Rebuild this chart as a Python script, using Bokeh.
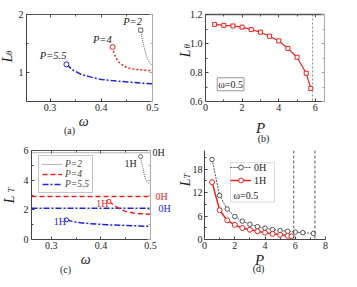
import math
from bokeh.plotting import figure
from bokeh.models import (Range1d, LinearAxis, FixedTicker, Label, Legend, LegendItem,
                          Span, BoxAnnotation, PrintfTickFormatter, Title,
                          CustomJSTickFormatter)
from bokeh.layouts import row, column
from bokeh.embed import file_html
from bokeh.resources import INLINE

FONT = "Liberation Serif"
GRAY = "#666666"
RED = "#ee2020"
BLUE = "#2222dd"

# ---------------- data ----------------
# (a) L_theta vs omega
a_p2_w = [0.477, 0.479, 0.482, 0.485, 0.488, 0.491, 0.494, 0.497, 0.500]
a_p2_L = [1.73, 1.62, 1.49, 1.38, 1.29, 1.22, 1.17, 1.14, 1.12]
a_p4_w = [0.422, 0.425, 0.428, 0.433, 0.438, 0.445, 0.452, 0.462, 0.472, 0.485, 0.500]
a_p4_L = [1.44, 1.34, 1.26, 1.19, 1.15, 1.11, 1.08, 1.06, 1.05, 1.04, 1.03]
a_p55_w = [0.332, 0.345, 0.360, 0.380, 0.400, 0.420, 0.440, 0.460, 0.480, 0.500]
a_p55_L = [1.14, 1.04, 0.97, 0.92, 0.88, 0.86, 0.845, 0.83, 0.815, 0.805]
a_labels = ["P=2", "P=4", "P=5.5"]
a_label_w = [0.461, 0.402, 0.306]
a_label_L = [1.88, 1.57, 1.29]

# (b) L_theta vs P at omega = 0.5
b_P = [0.5, 1.0, 1.5, 2.0, 2.5, 3.0, 3.5, 4.0, 4.5, 5.0, 5.5, 5.75]
b_L = [1.132, 1.125, 1.121, 1.113, 1.096, 1.078, 1.050, 1.018, 0.966, 0.905, 0.795, 0.69]
b_Pmax = 5.85

# (c) L_T vs omega
c_0h = [5.85, 2.9, 2.1]            # P=2, P=4, P=5.5 (0H)
c_p2_w = [0.480, 0.482, 0.485, 0.487, 0.490, 0.493, 0.496, 0.500]
c_p2_L = [5.6, 5.2, 4.8, 4.45, 4.1, 3.9, 3.8, 3.72]
c_p4_w = [0.416, 0.422, 0.428, 0.435, 0.443, 0.452, 0.465, 0.478, 0.490, 0.500]
c_p4_L = [2.57, 2.42, 2.27, 2.12, 1.98, 1.88, 1.79, 1.74, 1.72, 1.71]
c_p55_w = [0.331, 0.340, 0.350, 0.367, 0.390, 0.413, 0.440, 0.465, 0.485, 0.500]
c_p55_L = [1.33, 1.24, 1.17, 1.10, 1.04, 0.99, 0.96, 0.93, 0.90, 0.88]
c_1h_label_w = [0.460, 0.403, 0.317]
c_1h_label_L = [5.11, 2.42, 1.19]

# (d) L_T vs P at omega = 0.5
d_0h_P = [0.5, 1.0, 1.5, 2.0, 2.5, 3.0, 3.5, 4.0, 4.5, 5.0, 5.5, 6.0, 6.5, 7.2]
d_0h_L = [20.5, 11.3, 7.8, 5.9, 4.7, 3.9, 3.3, 2.9, 2.55, 2.3, 2.1, 1.9, 1.75, 1.55]
d_1h_P = [0.5, 1.0, 1.5, 2.0, 2.5, 3.0, 3.5, 4.0, 4.5, 5.0, 5.5, 5.75]
d_1h_L = [14.7, 7.5, 4.9, 3.75, 2.95, 2.5, 2.1, 1.75, 1.45, 1.2, 0.95, 0.8]
d_vlines = [5.9, 7.3]


def make_fig(w, h, left, right, top, bottom, xr, yr):
    p = figure(width=w, height=h, x_range=Range1d(*xr), y_range=Range1d(*yr),
               toolbar_location=None, output_backend="svg",
               min_border_left=left, min_border_right=right,
               min_border_top=top, min_border_bottom=bottom)
    p.grid.visible = False
    p.outline_line_color = None
    p.background_fill_color = "white"
    p.border_fill_color = "white"
    return p


def style_axis(ax, ticks, minor, color="#444444", width=1, labels=True, fmt=None,
               standoff=2):
    ax.ticker = FixedTicker(ticks=ticks, minor_ticks=minor)
    ax.axis_line_color = color
    ax.axis_line_width = width
    ax.major_tick_line_color = color
    ax.minor_tick_line_color = color
    ax.major_tick_in = 3
    ax.major_tick_out = 0
    ax.minor_tick_in = 2
    ax.minor_tick_out = 0
    ax.axis_label = None
    if fmt is not None:
        ax.formatter = fmt
    if labels:
        ax.major_label_text_font = FONT
        ax.major_label_text_font_size = "10px"
        ax.major_label_text_color = "#222222"
        ax.major_label_standoff = standoff
    else:
        ax.major_label_text_font_size = "0px"
        ax.major_label_text_color = None
        ax.major_label_standoff = 0


def add_spine(p, side, ticks, minor, color="#aaaaaa", width=1):
    ax = LinearAxis()
    style_axis(ax, ticks, minor, color=color, width=width, labels=False)
    p.add_layout(ax, side)


def ttl(p, side, text, size, style, align, offset, valign, standoff, color="#222222"):
    p.add_layout(Title(text=text, text_font=FONT, text_font_size=f"{size}px",
                       text_font_style=style, text_color=color, align=align,
                       offset=offset, vertical_align=valign, standoff=int(standoff)), side)


def lab(p, text, x, y, size, style="normal", color="#222222", align="center", **kw):
    p.add_layout(Label(x=x, y=y, text=text, text_font=FONT, text_font_size=f"{size}px",
                       text_font_style=style, text_color=color,
                       text_align=align, text_baseline="middle", **kw))


# ---------------- (a) ----------------
pa = make_fig(178, 145, 26, 26, 14, 41, (0.254, 0.5), (0.5, 2.0))
style_axis(pa.xaxis[0], [0.3, 0.4, 0.5], [0.35, 0.45])
style_axis(pa.yaxis[0], [1, 2], [0.5, 1.5], standoff=3)
add_spine(pa, "above", [0.3, 0.4, 0.5], [0.35, 0.45], color="#555555")
add_spine(pa, "right", [1, 2], [0.5, 1.5])
pa.line(a_p2_w, a_p2_L, line_color=GRAY, line_dash="1 1", line_width=1)
pa.line(a_p4_w, a_p4_L, line_color=RED, line_dash="2 2", line_width=1.5)
pa.line(a_p55_w, a_p55_L, line_color=BLUE, line_dash="6 2 2 2", line_width=1.5)
pa.scatter(a_p2_w[:1], a_p2_L[:1], marker="square", size=4, fill_color="white", line_color=GRAY)
pa.scatter(a_p4_w[:1], a_p4_L[:1], marker="circle", size=5, fill_color="white", line_color=RED)
pa.scatter(a_p55_w[:1], a_p55_L[:1], marker="circle", size=5, fill_color="white", line_color=BLUE)
for t, xw, yl in zip(a_labels, a_label_w, a_label_L):
    lab(pa, t, xw, yl, 10.5, style="italic")
ttl(pa, "left", "L", 14, "italic", "right", 40, "top", -3)
ttl(pa, "left", "θ", 9, "italic", "right", 36, "bottom", -25)
ttl(pa, "below", "ω", 14, "italic", "left", 52.3, "top", 0)
ttl(pa, "below", "(a)", 10, "normal", "left", 37.5, "top", -11)

# ---------------- (b) ----------------
pb = make_fig(179, 145, 27, 33, 12, 44, (0.0, 6.5), (0.6, 1.2))
style_axis(pb.xaxis[0], [0, 2, 4, 6], [1, 3, 5])
style_axis(pb.yaxis[0], [0.6, 0.8, 1.0, 1.2], [0.7, 0.9, 1.1],
           fmt=PrintfTickFormatter(format="%.1f"), standoff=3)
add_spine(pb, "above", [0, 2, 4, 6], [1, 3, 5], color="#555555", width=1.5)
add_spine(pb, "right", [0.6, 0.8, 1.0, 1.2], [0.7, 0.9, 1.1])
pb.add_layout(Span(location=b_Pmax, dimension="height", line_color="#888888",
                   line_dash="2 2", line_width=1))
pb.line(b_P, b_L, line_color=RED, line_width=1.2)
pb.scatter(b_P, b_L, marker="square", size=4, fill_color="white", line_color=RED)
lab(pb, "ω=0.5", 1.37, 0.719, 10, border_line_color="#999999", border_line_width=1,
    background_fill_color="white", padding=1)
ttl(pb, "left", "L", 14, "italic", "right", 35, "top", -16)
ttl(pb, "left", "θ", 9, "italic", "right", 29.7, "bottom", -12)
ttl(pb, "below", "P", 15, "italic", "left", 50.4, "top", 12)
ttl(pb, "below", "(b)", 10, "normal", "left", 52.2, "top", -22)

# ---------------- (c) ----------------
c_xr = (0.26, 0.5)
pc = make_fig(178, 142, 29, 28, 5, 48, c_xr, (0.0, 6.0))
style_axis(pc.xaxis[0], [0.3, 0.4, 0.5], [0.35, 0.45])
style_axis(pc.yaxis[0], [0, 2, 4, 6], [1, 3, 5], standoff=3)
add_spine(pc, "above", [0.3, 0.4, 0.5], [0.35, 0.45], color="#555555")
add_spine(pc, "right", [0, 2, 4, 6], [1, 3, 5])
styles = [dict(line_color=GRAY, line_dash="1 1", line_width=1),
          dict(line_color=RED, line_dash="5 3", line_width=1.5),
          dict(line_color=BLUE, line_dash="6 2 2 2", line_width=1.5)]
zero_r = []
for v, st in zip(c_0h, styles):
    zero_r.append(pc.line(list(c_xr), [v, v], **st))
curves = [(c_p2_w, c_p2_L), (c_p4_w, c_p4_L), (c_p55_w, c_p55_L)]
for (cw, cl), st in zip(curves, styles):
    pc.line(cw, cl, **st)
    pc.scatter(cw[:1], cl[:1], marker="circle", size=4, fill_color="white",
               line_color=st["line_color"])
text_cols = ["#222222", RED, BLUE]
for xw, yl, col in zip(c_1h_label_w, c_1h_label_L, text_cols):
    lab(pc, "1H", xw, yl, 10, color=col)
# "0H" tags right of the frame, as tick labels of extra right axes
for i, (v, col) in enumerate(zip(c_0h, text_cols)):
    ax = LinearAxis(ticker=FixedTicker(ticks=[v]),
                    formatter=CustomJSTickFormatter(code="return '0H'"))
    ax.axis_line_color = None
    ax.major_tick_line_color = None
    ax.minor_tick_line_color = None
    ax.major_tick_in = 0
    ax.major_tick_out = 0
    ax.major_label_text_font = FONT
    ax.major_label_text_font_size = "10px"
    ax.major_label_text_color = col
    ax.major_label_standoff = 2 if i == 0 else -12
    pc.add_layout(ax, "right")
leg_c = Legend(items=[LegendItem(label=t, renderers=[r]) for t, r in zip(a_labels, zero_r)],
               location=(7, 46.5), glyph_width=20, glyph_height=10, label_height=10,
               label_standoff=3, spacing=0, padding=3, margin=0,
               label_text_font=FONT, label_text_font_size="9.5px",
               label_text_font_style="italic", label_text_color="#444444",
               border_line_color="#888888", border_line_width=1,
               background_fill_color="white", background_fill_alpha=1)
pc.add_layout(leg_c)
ttl(pc, "left", "L", 14, "italic", "right", 45, "top", 3)
ttl(pc, "left", "T", 9, "italic", "right", 37, "bottom", -31)
ttl(pc, "below", "ω", 14, "italic", "left", 49.3, "top", 0)
ttl(pc, "below", "(c)", 10, "normal", "left", 28.5, "top", -10)

# ---------------- (d) ----------------
pd = make_fig(179, 142, 26, 32, 0, 47, (0.0, 8.0), (0.0, 22.8))
style_axis(pd.xaxis[0], [0, 2, 4, 6, 8], [1, 3, 5, 7])
style_axis(pd.yaxis[0], [0, 6, 12, 18], [3, 9, 15, 21], standoff=2)
for v in d_vlines:
    pd.add_layout(Span(location=v, dimension="height", line_color="#555555",
                       line_dash="3 2", line_width=1))
r0l = pd.line(d_0h_P, d_0h_L, line_color="#555555", line_dash="2 1", line_width=1)
r0s = pd.scatter(d_0h_P, d_0h_L, marker="circle", size=4.5, fill_color="white",
                 line_color="#555555")
r1l = pd.line(d_1h_P, d_1h_L, line_color=RED, line_width=1.5)
r1s = pd.scatter(d_1h_P, d_1h_L, marker="circle", size=5, fill_color="white",
                 line_color=RED)
leg_d = Legend(items=[LegendItem(label="0H", renderers=[r0l, r0s]),
                      LegendItem(label="1H", renderers=[r1l, r1s])],
               location=(26, 53), glyph_width=21, glyph_height=12, label_height=12,
               label_standoff=3, spacing=1, padding=1, margin=0,
               label_text_font=FONT, label_text_font_size="10px",
               label_text_color="#222222", border_line_color=None,
               background_fill_alpha=0)
pd.add_layout(leg_d)
pd.add_layout(BoxAnnotation(left=1.72, right=4.63, top=19.7, bottom=9.6,
                            fill_alpha=0, line_color="#888888", line_width=1))
lab(pd, "ω=0.5", 1.92, 11.3, 10, align="left")
ttl(pd, "left", "L", 14, "italic", "right", 28, "top", -10)
ttl(pd, "left", "T", 9, "italic", "right", 23, "bottom", -18)
ttl(pd, "below", "P", 15, "italic", "left", 50.4, "top", 0)
ttl(pd, "below", "(d)", 10, "normal", "left", 48.2, "top", -13)

layout = column(row(pa, pb), row(pc, pd))
open("out.html", "w").write(file_html(layout, INLINE))
